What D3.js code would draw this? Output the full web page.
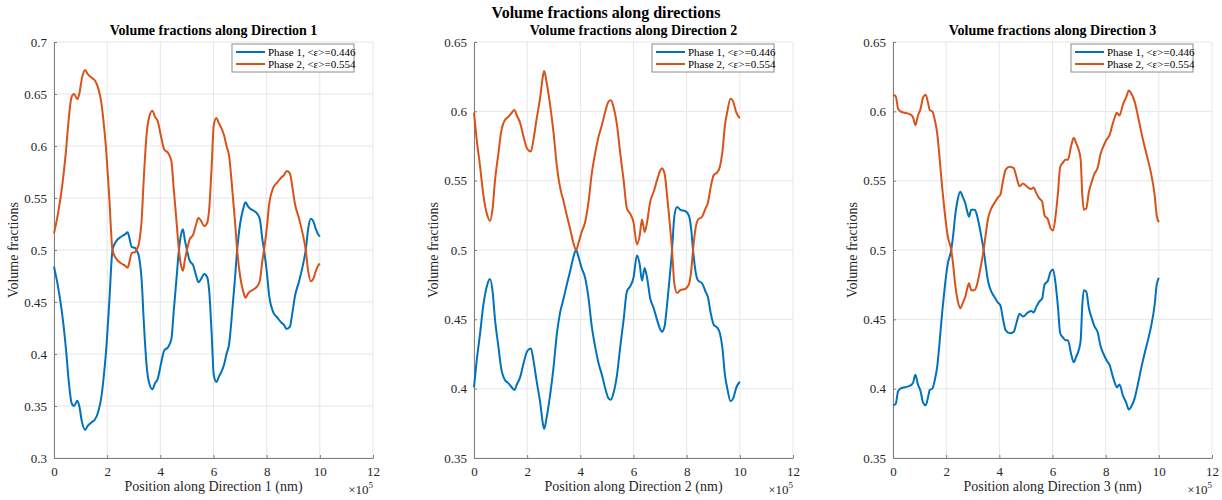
<!DOCTYPE html>
<html>
<head>
<meta charset="utf-8">
<script src="https://cdn.jsdelivr.net/npm/d3@7"></script>
<style>
  html, body { margin: 0; padding: 0; background: #fff; }
  svg { display: block; font-family: "Liberation Serif", "Times New Roman", serif; }
</style>
</head>
<body>
<svg id="chart" width="1222" height="500"></svg>
<script>
// ---- Data (positions in units of 1e5 nm) ----
const mainTitle = "Volume fractions along directions";
const panelTitles = ["Volume fractions along Direction 1", "Volume fractions along Direction 2", "Volume fractions along Direction 3"];
const xLabels = ["Position along Direction 1 (nm)", "Position along Direction 2 (nm)", "Position along Direction 3 (nm)"];
const yLabel = "Volume fractions";
const seriesNames = ["Phase 1, <\u03B5>=0.446", "Phase 2, <\u03B5>=0.554"];
const xTicks = [0, 2, 4, 6, 8, 10, 12];
const yTicks1 = [0.3, 0.35, 0.4, 0.45, 0.5, 0.55, 0.6, 0.65, 0.7];
const yTicks23 = [0.35, 0.4, 0.45, 0.5, 0.55, 0.6, 0.65];

const x1 = [0.00,0.15,0.30,0.45,0.55,0.66,0.75,0.88,0.95,1.05,
  1.17,1.27,1.35,1.45,1.54,1.67,1.79,1.87,1.95,2.08,
  2.20,2.33,2.48,2.60,2.67,2.77,2.85,2.92,3.05,3.12,
  3.20,3.30,3.38,3.48,3.58,3.70,3.80,3.90,4.02,4.14,
  4.30,4.42,4.50,4.60,4.70,4.78,4.85,4.92,5.00,5.10,
  5.24,5.35,5.43,5.53,5.65,5.76,5.84,5.93,6.01,6.11,
  6.20,6.30,6.40,6.49,6.59,6.70,6.80,6.89,7.00,7.12,
  7.20,7.30,7.37,7.50,7.64,7.74,7.84,7.90,8.00,8.10,
  8.25,8.40,8.56,8.65,8.75,8.87,8.97,9.06,9.22,9.40,
  9.47,9.56,9.66,9.75,9.85,9.94,10.00];
const phase1Dir1 = [0.484,0.465,0.440,0.405,0.375,0.353,0.350,0.355,0.350,0.335,
  0.327,0.331,0.333,0.335,0.337,0.345,0.360,0.378,0.400,0.450,
  0.500,0.508,0.512,0.514,0.515,0.517,0.510,0.503,0.502,0.499,
  0.493,0.470,0.430,0.390,0.372,0.366,0.372,0.376,0.390,0.403,
  0.407,0.415,0.440,0.470,0.500,0.515,0.520,0.510,0.500,0.490,
  0.485,0.475,0.469,0.472,0.477,0.474,0.460,0.420,0.380,0.373,
  0.378,0.383,0.390,0.400,0.410,0.440,0.470,0.500,0.525,0.540,
  0.546,0.542,0.540,0.538,0.535,0.530,0.510,0.500,0.480,0.455,
  0.440,0.435,0.430,0.428,0.424,0.426,0.440,0.455,0.470,0.490,
  0.500,0.520,0.530,0.528,0.520,0.515,0.513];
const phase2Dir1 = [0.516,0.535,0.560,0.595,0.625,0.647,0.650,0.645,0.650,0.665,
  0.673,0.669,0.667,0.665,0.663,0.655,0.640,0.622,0.600,0.550,
  0.500,0.492,0.488,0.486,0.485,0.483,0.490,0.497,0.498,0.501,
  0.507,0.530,0.570,0.610,0.628,0.634,0.628,0.624,0.610,0.597,
  0.593,0.585,0.560,0.530,0.500,0.485,0.480,0.490,0.500,0.510,
  0.515,0.525,0.531,0.528,0.523,0.526,0.540,0.580,0.620,0.627,
  0.622,0.617,0.610,0.600,0.590,0.560,0.530,0.500,0.475,0.460,
  0.454,0.458,0.460,0.462,0.465,0.470,0.490,0.500,0.520,0.545,
  0.560,0.565,0.570,0.572,0.576,0.574,0.560,0.545,0.530,0.510,
  0.500,0.480,0.470,0.472,0.480,0.485,0.487];

const x2 = [0.00,0.10,0.23,0.35,0.50,0.60,0.70,0.79,0.92,1.02,
  1.17,1.29,1.42,1.52,1.61,1.73,1.86,2.00,2.14,2.24,
  2.36,2.49,2.59,2.64,2.74,2.86,2.99,3.12,3.24,3.37,
  3.49,3.62,3.74,3.84,3.93,4.05,4.18,4.31,4.43,4.56,
  4.69,4.81,4.94,5.06,5.15,5.25,5.38,5.50,5.63,5.75,
  5.88,6.00,6.13,6.23,6.32,6.42,6.51,6.63,6.76,6.88,
  7.00,7.07,7.17,7.26,7.36,7.45,7.54,7.64,7.76,7.95,
  8.08,8.17,8.24,8.33,8.43,8.58,8.71,8.80,8.90,9.02,
  9.15,9.25,9.34,9.44,9.53,9.65,9.75,9.87,10.00];
const phase1Dir2 = [0.401,0.420,0.440,0.460,0.475,0.479,0.470,0.450,0.430,0.415,
  0.406,0.404,0.401,0.399,0.403,0.408,0.418,0.427,0.429,0.420,
  0.405,0.390,0.375,0.371,0.380,0.395,0.415,0.440,0.455,0.465,
  0.475,0.485,0.495,0.500,0.495,0.487,0.480,0.465,0.445,0.430,
  0.418,0.410,0.400,0.393,0.392,0.397,0.410,0.430,0.450,0.470,
  0.474,0.480,0.496,0.490,0.478,0.487,0.480,0.465,0.458,0.450,
  0.443,0.441,0.445,0.460,0.480,0.500,0.525,0.531,0.529,0.528,
  0.525,0.515,0.500,0.485,0.478,0.476,0.470,0.466,0.455,0.446,
  0.444,0.440,0.430,0.410,0.400,0.391,0.393,0.401,0.405];
const phase2Dir2 = [0.599,0.580,0.560,0.540,0.525,0.521,0.530,0.550,0.570,0.585,
  0.594,0.596,0.599,0.601,0.597,0.592,0.582,0.573,0.571,0.580,
  0.595,0.610,0.625,0.629,0.620,0.605,0.585,0.560,0.545,0.535,
  0.525,0.515,0.505,0.500,0.505,0.513,0.520,0.535,0.555,0.570,
  0.582,0.590,0.600,0.607,0.608,0.603,0.590,0.570,0.550,0.530,
  0.526,0.520,0.504,0.510,0.522,0.513,0.520,0.535,0.542,0.550,
  0.557,0.559,0.555,0.540,0.520,0.500,0.475,0.469,0.471,0.472,
  0.475,0.485,0.500,0.515,0.522,0.524,0.530,0.534,0.545,0.554,
  0.556,0.560,0.570,0.590,0.600,0.609,0.607,0.599,0.595];

const x3 = [0.00,0.10,0.19,0.28,0.44,0.63,0.75,0.84,0.94,1.04,
  1.13,1.23,1.32,1.38,1.48,1.57,1.67,1.75,1.85,1.94,
  2.06,2.19,2.26,2.34,2.44,2.53,2.63,2.73,2.79,2.86,
  2.94,3.07,3.13,3.22,3.32,3.41,3.48,3.57,3.70,3.82,
  3.95,4.04,4.14,4.24,4.39,4.54,4.64,4.76,4.89,5.08,
  5.20,5.29,5.39,5.51,5.61,5.70,5.83,5.92,6.02,6.12,
  6.20,6.29,6.39,6.49,6.58,6.70,6.80,6.89,6.99,7.06,
  7.12,7.18,7.27,7.37,7.49,7.58,7.71,7.79,7.92,8.05,
  8.15,8.25,8.33,8.42,8.52,8.65,8.77,8.87,8.96,9.09,
  9.21,9.34,9.46,9.59,9.71,9.84,9.92,10.00];
const phase1Dir3 = [0.388,0.389,0.398,0.400,0.401,0.402,0.404,0.410,0.403,0.398,
  0.390,0.388,0.394,0.399,0.400,0.406,0.417,0.433,0.455,0.472,
  0.490,0.500,0.510,0.525,0.537,0.542,0.538,0.533,0.528,0.524,
  0.529,0.529,0.527,0.520,0.510,0.500,0.490,0.478,0.470,0.466,
  0.462,0.460,0.450,0.442,0.440,0.441,0.447,0.454,0.452,0.455,
  0.456,0.455,0.459,0.463,0.465,0.475,0.478,0.484,0.486,0.475,
  0.460,0.440,0.437,0.435,0.435,0.425,0.419,0.423,0.428,0.435,
  0.460,0.471,0.470,0.458,0.450,0.445,0.440,0.432,0.425,0.420,
  0.417,0.410,0.405,0.401,0.403,0.395,0.390,0.385,0.387,0.393,
  0.403,0.415,0.425,0.435,0.445,0.460,0.475,0.480];
const phase2Dir3 = [0.612,0.611,0.602,0.600,0.599,0.598,0.596,0.590,0.597,0.602,
  0.610,0.612,0.606,0.601,0.600,0.594,0.583,0.567,0.545,0.528,
  0.510,0.500,0.490,0.475,0.463,0.458,0.462,0.467,0.472,0.476,
  0.471,0.471,0.473,0.480,0.490,0.500,0.510,0.522,0.530,0.534,
  0.538,0.540,0.550,0.558,0.560,0.559,0.553,0.546,0.548,0.545,
  0.544,0.545,0.541,0.537,0.535,0.525,0.522,0.516,0.514,0.525,
  0.540,0.560,0.563,0.565,0.565,0.575,0.581,0.577,0.572,0.565,
  0.540,0.529,0.530,0.542,0.550,0.555,0.560,0.568,0.575,0.580,
  0.583,0.590,0.595,0.599,0.597,0.605,0.610,0.615,0.613,0.607,
  0.597,0.585,0.575,0.565,0.555,0.540,0.525,0.520];

// ---- Layout ----
const colors = ["#0072BD", "#D95319"];
const yFmt = d => String(+d.toFixed(2));
const panels = [
  { left: 54,  x: x1, s: [phase1Dir1, phase2Dir1], yDom: [0.3, 0.7],  yTicks: yTicks1 },
  { left: 474, x: x2, s: [phase1Dir2, phase2Dir2], yDom: [0.35, 0.65], yTicks: yTicks23 },
  { left: 893, x: x3, s: [phase1Dir3, phase2Dir3], yDom: [0.35, 0.65], yTicks: yTicks23 }
];
const plotW = 319, plotTop = 42, plotBottom = 458;

const svg = d3.select("#chart");

svg.append("text")
  .attr("x", 606).attr("y", 18)
  .attr("text-anchor", "middle")
  .attr("font-size", 16).attr("font-weight", "bold").attr("fill", "#000")
  .text(mainTitle);

panels.forEach((p, i) => {
  const xs = d3.scaleLinear().domain([0, 12]).range([p.left, p.left + plotW]);
  const ys = d3.scaleLinear().domain(p.yDom).range([plotBottom, plotTop]);
  const g = svg.append("g");

  // grid
  g.append("g").selectAll("line").data(xTicks).join("line")
    .attr("x1", d => xs(d)).attr("x2", d => xs(d))
    .attr("y1", plotTop).attr("y2", plotBottom)
    .attr("stroke", "#e6e6e6").attr("stroke-width", 1);
  g.append("g").selectAll("line").data(p.yTicks).join("line")
    .attr("x1", p.left).attr("x2", p.left + plotW)
    .attr("y1", d => ys(d)).attr("y2", d => ys(d))
    .attr("stroke", "#e6e6e6").attr("stroke-width", 1);

  // axes (inward ticks)
  const xAxis = d3.axisBottom(xs).tickValues(xTicks).tickSizeInner(-3).tickSizeOuter(0).tickPadding(9)
    .tickFormat(d3.format("d"));
  const yAxis = d3.axisLeft(ys).tickValues(p.yTicks).tickSizeInner(-3).tickSizeOuter(0).tickPadding(7)
    .tickFormat(yFmt);
  const gx = g.append("g").attr("transform", `translate(0,${plotBottom})`).call(xAxis);
  const gy = g.append("g").attr("transform", `translate(${p.left},0)`).call(yAxis);
  [gx, gy].forEach(a => {
    a.select(".domain").attr("stroke", "#7f7f7f");
    a.selectAll(".tick line").attr("stroke", "#7f7f7f");
    a.selectAll(".tick text").attr("fill", "#262626").attr("font-size", 13)
      .attr("font-family", "Liberation Serif, Times New Roman, serif");
  });

  // lines
  const line = d3.line().x(d => xs(d[0])).y(d => ys(d[1])).curve(d3.curveMonotoneX);
  p.s.forEach((vals, k) => {
    g.append("path")
      .datum(p.x.map((xv, j) => [xv, vals[j]]))
      .attr("fill", "none").attr("stroke", colors[k])
      .attr("stroke-width", 2).attr("stroke-linejoin", "round")
      .attr("d", line);
  });

  // titles & labels
  const cx = p.left + plotW / 2;
  g.append("text").attr("x", cx).attr("y", 35).attr("text-anchor", "middle")
    .attr("font-size", 14).attr("font-weight", "bold").attr("fill", "#000")
    .text(panelTitles[i]);
  g.append("text").attr("x", cx).attr("y", 491).attr("text-anchor", "middle")
    .attr("font-size", 14).attr("fill", "#262626").text(xLabels[i]);
  g.append("text")
    .attr("transform", `translate(${p.left - 36},${(plotTop + plotBottom) / 2}) rotate(-90)`)
    .attr("text-anchor", "middle").attr("font-size", 14).attr("fill", "#262626")
    .text(yLabel);
  const mult = g.append("text").attr("x", p.left + plotW).attr("y", 494)
    .attr("text-anchor", "end").attr("font-size", 13).attr("fill", "#262626");
  mult.append("tspan").text("\u00D710");
  mult.append("tspan").attr("dy", -6).attr("font-size", 9).text("5");

  // legend
  const lx = p.left + plotW - 141, ly = 44, lw = 122, lh = 28;
  const lg = g.append("g");
  lg.append("rect").attr("x", lx).attr("y", ly).attr("width", lw).attr("height", lh)
    .attr("fill", "#fff").attr("stroke", "#8c8c8c").attr("stroke-width", 1);
  seriesNames.forEach((name, k) => {
    const yy = ly + 8 + k * 12;
    lg.append("line").attr("x1", lx + 4).attr("x2", lx + 33).attr("y1", yy).attr("y2", yy)
      .attr("stroke", colors[k]).attr("stroke-width", 2);
    lg.append("text").attr("x", lx + 36).attr("y", yy + 4)
      .attr("font-size", 11).attr("fill", "#000").text(name);
  });
});
</script>
</body>
</html>
